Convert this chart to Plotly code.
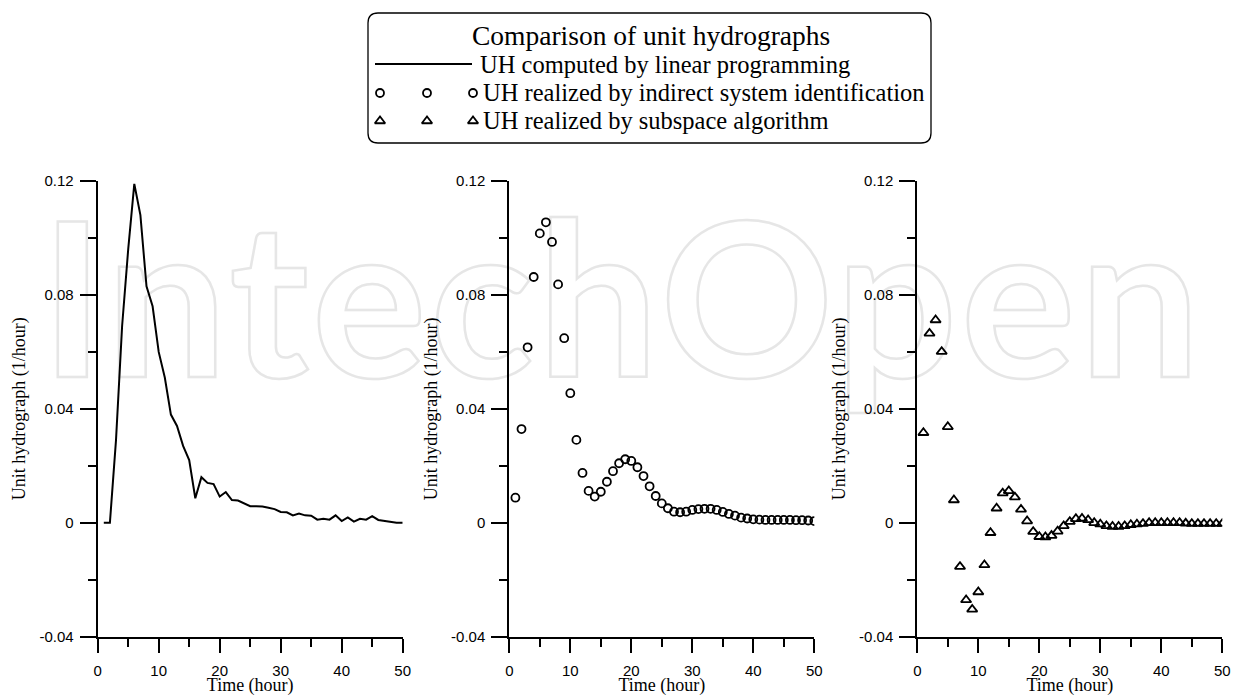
import plotly.graph_objects as go

# ---------------- data ----------------
hours = list(range(1, 51))

uh_linear_programming = [
    0.0, 0.0, 0.029, 0.069, 0.096, 0.119, 0.108, 0.083, 0.076, 0.060,
    0.051, 0.038, 0.034, 0.027, 0.022, 0.0086, 0.016, 0.014, 0.0136, 0.0092,
    0.0108, 0.0080, 0.0078, 0.0068, 0.0058, 0.0058, 0.0057, 0.0053, 0.0048, 0.0038,
    0.0037, 0.0026, 0.0032, 0.0026, 0.0025, 0.0011, 0.0014, 0.0011, 0.0026, 0.0006,
    0.0019, 0.0004, 0.0014, 0.0011, 0.0023, 0.0010, 0.0006, 0.0004, 0.0, 0.0,
]

uh_indirect_identification = [
    0.0088, 0.0329, 0.0616, 0.0863, 0.1016, 0.1055, 0.0986, 0.0837, 0.0648, 0.0455,
    0.0291, 0.0175, 0.0112, 0.0092, 0.0109, 0.0144, 0.0181, 0.0209, 0.0223, 0.0217,
    0.0195, 0.0164, 0.0128, 0.0094, 0.0068, 0.0051, 0.0039, 0.0037, 0.0039, 0.0045,
    0.0048, 0.0049, 0.0049, 0.0045, 0.0038, 0.0031, 0.0025, 0.0018, 0.0015, 0.0012,
    0.0011, 0.0010, 0.0010, 0.0010, 0.0010, 0.0010, 0.0009, 0.0009, 0.0008, 0.0006,
]

uh_subspace_algorithm = [
    0.0316, 0.0665, 0.0712, 0.0601, 0.0337, 0.0080, -0.0154, -0.0271, -0.0304, -0.0243,
    -0.0148, -0.0035, 0.0051, 0.0104, 0.0112, 0.0090, 0.0047, 0.0006, -0.0031, -0.0049,
    -0.0050, -0.0045, -0.0030, -0.0011, 0.0004, 0.0014, 0.0015, 0.0010, 0.0, -0.0005,
    -0.0011, -0.0013, -0.0013, -0.0011, -0.0007, -0.0005, -0.0003, 0.0, 0.0, 0.0,
    0.0, 0.0, 0.0, -0.0002, -0.0003, -0.0003, -0.0003, -0.0003, -0.0003, -0.0003,
]

x_tick_values = [0, 10, 20, 30, 40, 50]
x_tick_labels = ["0", "10", "20", "30", "40", "50"]
y_tick_values = [-0.04, 0.0, 0.04, 0.08, 0.12]
y_tick_labels = ["-0.04", "0", "0.04", "0.08", "0.12"]

legend_title = "Comparison of unit hydrographs"
legend_labels = [
    "UH computed by linear programming",
    "UH realized by indirect system identification",
    "UH realized by subspace algorithm",
]
x_title = "Time (hour)"
y_title = "Unit hydrograph (1/hour)"
watermark = "IntechOpen"

# ---------------- layout helpers ----------------
W, H = 1236, 696


def px(x):
    return x / W


def py(y):
    return 1 - y / H


SERIF = "Liberation Serif, Times New Roman, serif"
SANS = "Liberation Sans, Arial, sans-serif"

fig = go.Figure()

fig.add_trace(go.Scatter(
    x=hours, y=uh_linear_programming, mode="lines",
    line=dict(color="black", width=2), xaxis="x", yaxis="y", showlegend=False,
))
fig.add_trace(go.Scatter(
    x=hours, y=uh_indirect_identification, mode="markers",
    marker=dict(symbol="circle-open", size=8, color="black", line=dict(width=1.8, color="black")),
    xaxis="x2", yaxis="y2", showlegend=False,
))
fig.add_trace(go.Scatter(
    x=hours, y=uh_subspace_algorithm, mode="markers",
    marker=dict(symbol="triangle-up-open", size=9, color="black", line=dict(width=1.8, color="black")),
    xaxis="x3", yaxis="y3", showlegend=False,
))

# legend samples drawn on an invisible page-sized overlay axis
fig.add_trace(go.Scatter(
    x=[375, 472], y=[64, 64], mode="lines", line=dict(color="black", width=2),
    xaxis="x4", yaxis="y4", showlegend=False, cliponaxis=False,
))
fig.add_trace(go.Scatter(
    x=[380, 427, 473], y=[93, 93, 93], mode="markers",
    marker=dict(symbol="circle-open", size=8, color="black", line=dict(width=1.8, color="black")),
    xaxis="x4", yaxis="y4", showlegend=False, cliponaxis=False,
))
fig.add_trace(go.Scatter(
    x=[380, 427, 473], y=[121, 121, 121], mode="markers",
    marker=dict(symbol="triangle-up-open", size=9, color="black", line=dict(width=1.8, color="black")),
    xaxis="x4", yaxis="y4", showlegend=False, cliponaxis=False,
))

panel_x = [(97.7, 402.7), (509.3, 814.3), (917.3, 1222.3)]
y_top, y_bot = 181.0, 636.7

for i, (a, b) in enumerate(panel_x):
    sfx = "" if i == 0 else str(i + 1)
    xa = dict(
        domain=[px(a), px(b)], range=[0, 50], anchor="y" + sfx, automargin=False,
        showline=True, linecolor="black", linewidth=2, mirror=False,
        ticks="outside", ticklen=14, tickwidth=2, tickcolor="black",
        tickvals=x_tick_values, ticktext=x_tick_labels, ticklabelstandoff=5,
        minor=dict(tickvals=[5, 15, 25, 35, 45], ticks="outside", ticklen=8,
                   tickwidth=2, tickcolor="black", showgrid=False),
        showgrid=False, zeroline=False, fixedrange=True,
        tickfont=dict(family=SANS, size=15, color="black"),
        title=dict(text=x_title, font=dict(family=SERIF, size=18, color="black"), standoff=0),
    )
    ya = dict(
        domain=[py(y_bot), py(y_top)], range=[-0.04, 0.12], anchor="x" + sfx, automargin=False,
        showline=True, linecolor="black", linewidth=2, mirror=False,
        ticks="outside", ticklen=16, tickwidth=2, tickcolor="black",
        tickvals=y_tick_values, ticktext=y_tick_labels, ticklabelstandoff=3,
        minor=dict(tickvals=[-0.02, 0.02, 0.06, 0.10], ticks="outside", ticklen=8,
                   tickwidth=2, tickcolor="black", showgrid=False),
        showgrid=False, zeroline=False, fixedrange=True,
        tickfont=dict(family=SANS, size=15, color="black"),
        title=dict(text=y_title, font=dict(family=SERIF, size=18, color="black"), standoff=9),
    )
    fig.update_layout(**{"xaxis" + sfx: xa, "yaxis" + sfx: ya})

fig.update_layout(
    xaxis4=dict(domain=[0, 1], range=[0, W], visible=False, anchor="y4",
                fixedrange=True, automargin=False),
    yaxis4=dict(domain=[0, 1], range=[H, 0], visible=False, anchor="x4",
                fixedrange=True, automargin=False),
)

# legend box (rounded rectangle)
x0, x1, y0, y1, r = 368, 931, 13, 143, 10
path = (
    f"M {px(x0 + r)},{py(y0)} L {px(x1 - r)},{py(y0)} "
    f"Q {px(x1)},{py(y0)} {px(x1)},{py(y0 + r)} L {px(x1)},{py(y1 - r)} "
    f"Q {px(x1)},{py(y1)} {px(x1 - r)},{py(y1)} L {px(x0 + r)},{py(y1)} "
    f"Q {px(x0)},{py(y1)} {px(x0)},{py(y1 - r)} L {px(x0)},{py(y0 + r)} "
    f"Q {px(x0)},{py(y0)} {px(x0 + r)},{py(y0)} Z"
)
shapes = [dict(type="path", path=path, xref="paper", yref="paper",
               line=dict(color="black", width=1.3), fillcolor="rgba(0,0,0,0)", layer="above")]

annotations = [
    dict(text=watermark, x=px(620), y=py(294), xref="paper", yref="paper",
         xanchor="center", yanchor="middle", showarrow=False,
         font=dict(family="Lato, sans-serif", size=215, color="#e6e6e6", weight="bold")),
    dict(text=legend_title, x=px(651), y=py(36), xref="paper", yref="paper",
         xanchor="center", yanchor="middle", showarrow=False,
         font=dict(family=SERIF, size=27.5, color="black")),
]
for lab, xx, yy in zip(legend_labels, [478, 481, 481], [65, 93, 121]):
    annotations.append(dict(text=lab, x=px(xx), y=py(yy), xref="paper", yref="paper",
                            xanchor="left", yanchor="middle", showarrow=False,
                            font=dict(family=SERIF, size=24.5, color="black")))

fig.update_layout(
    width=W, height=H, autosize=False,
    margin=dict(l=0, r=0, t=0, b=0, pad=0, autoexpand=False),
    paper_bgcolor="white", plot_bgcolor="rgba(0,0,0,0)",
    shapes=shapes, annotations=annotations, showlegend=False,
)

post = """
document.documentElement.style.margin = '0';
document.body.style.margin = '0';
var gd = document.getElementById('{plot_id}');
try {
  var groups = gd.querySelectorAll('g.annotation');
  groups.forEach(function(g){
    var t = g.querySelector('text');
    if (t && t.textContent === 'IntechOpen') {
      t.style.fill = 'none';
      t.style.stroke = '#e6e6e6';
      t.style.strokeWidth = '2.5px';
      t.setAttribute('textLength', '1160');
      t.setAttribute('lengthAdjust', 'spacing');
      var below = gd.querySelector('.main-svg .layer-below');
      if (below) { below.appendChild(g); }
    }
  });
} catch (e) {}
"""

fig.write_html("out.html", post_script=post, config={"displayModeBar": False})
